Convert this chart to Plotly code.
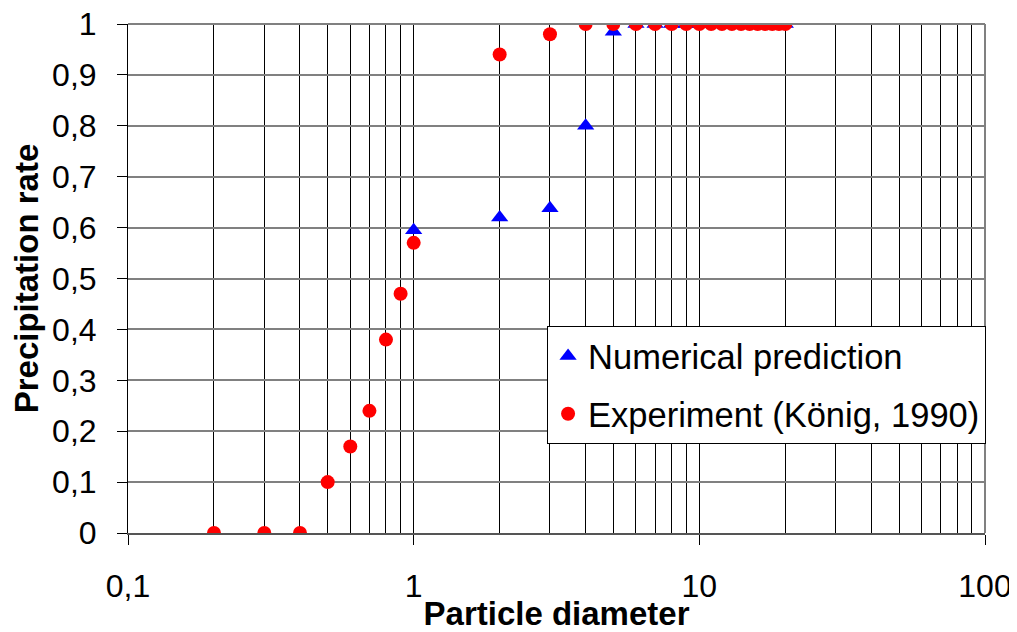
import plotly.graph_objects as go

# Data
num_x = [1, 2, 3, 4, 5, 6, 7, 8, 9, 10, 11, 12, 13, 14, 15, 16, 17, 18, 19, 20]
num_y = [0.595, 0.62, 0.638, 0.80, 0.985, 1.0, 1.0, 1.0, 1.0, 1.0, 1.0, 1.0, 1.0, 1.0, 1.0, 1.0, 1.0, 1.0, 1.0, 1.0]

exp_x = [0.2, 0.3, 0.4, 0.5, 0.6, 0.7, 0.8, 0.9, 1, 2, 3, 4, 5, 6, 7, 8, 9, 10,
         11, 12, 13, 14, 15, 16, 17, 18, 19, 20]
exp_y = [0, 0, 0, 0.10, 0.17, 0.24, 0.38, 0.47, 0.57, 0.94, 0.98, 1, 1, 1, 1, 1, 1, 1,
         1, 1, 1, 1, 1, 1, 1, 1, 1, 1]

x_tickvals = [0.1, 1, 10, 100]
x_ticktext = ["0,1", "1", "10", "100"]

FONT = "Arial, Liberation Sans, sans-serif"

fig = go.Figure()
fig.add_trace(go.Scatter(
    x=num_x, y=num_y, mode="markers", name="Numerical prediction",
    legendgroup="a",
    marker=dict(symbol="triangle-up", size=15, color="#0000ff"),
))
fig.add_trace(go.Scatter(
    x=exp_x, y=exp_y, mode="markers", name="Experiment (König, 1990)",
    legendgroup="b",
    marker=dict(symbol="circle", size=14, color="#ff0000"),
))

fig.update_layout(
    width=1009, height=624,
    margin=dict(l=120, r=32, t=16, b=99, autoexpand=False),
    paper_bgcolor="white", plot_bgcolor="white",
    separators=", ",
    font=dict(family=FONT, size=32, color="black"),
    showlegend=True,
    legend=dict(
        x=0.489, y=0.4067, xanchor="left", yanchor="top",
        bgcolor="white", bordercolor="black", borderwidth=1,
        font=dict(family=FONT, size=34.5, color="black"),
        traceorder="grouped", tracegroupgap=10,
    ),
    xaxis=dict(
        type="log", range=[-1, 2],
        tickvals=x_tickvals, ticktext=x_ticktext,
        ticks="outside", ticklen=10, tickcolor="black", tickwidth=1,
        showgrid=True, gridcolor="black", gridwidth=1,
        minor=dict(dtick="D1", showgrid=True, gridcolor="black", gridwidth=1, ticks=""),
        showline=True, linecolor="#555555", linewidth=2, mirror=False,
        zeroline=False,
        tickfont=dict(size=32),
        ticklabelstandoff=14,
        ticklabeloverflow="allow",
        title=dict(text="<b>Particle diameter</b>", font=dict(size=33), standoff=6),
    ),
    yaxis=dict(
        range=[0, 1], dtick=0.1, tick0=0,
        ticks="outside", ticklen=10, tickcolor="black", tickwidth=1,
        showgrid=True, gridcolor="#808080", gridwidth=1.5,
        showline=True, linecolor="black", linewidth=1,
        zeroline=False,
        tickfont=dict(size=32),
        ticklabelstandoff=14,
        ticklabeloverflow="allow",
        title=dict(text="<b>Precipitation rate</b>", font=dict(size=33), standoff=4),
    ),
    shapes=[
        dict(type="line", xref="paper", yref="paper", x0=1, x1=1, y0=0, y1=1,
             line=dict(color="#808080", width=2)),
        dict(type="line", xref="paper", yref="paper", x0=0, x1=1, y0=1, y1=1,
             line=dict(color="#808080", width=2)),
    ],
)

fig.write_html("out.html")
